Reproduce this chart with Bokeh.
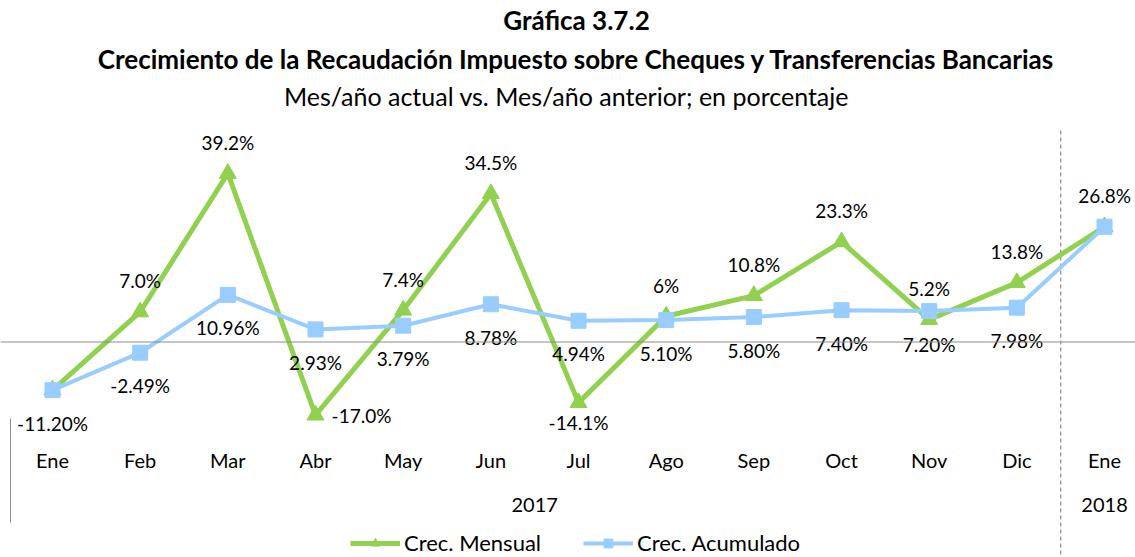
from bokeh.plotting import figure
from bokeh.models import Span, Legend, LegendItem, ColumnDataSource, Range1d
from bokeh.core.properties import value
from bokeh.embed import file_html
from bokeh.resources import INLINE

# ---------------- data ----------------
months = ["Ene", "Feb", "Mar", "Abr", "May", "Jun", "Jul", "Ago", "Sep", "Oct", "Nov", "Dic", "Ene"]
years = ["2017", "2018"]
mensual = [-11.2, 7.0, 39.2, -17.0, 7.4, 34.5, -14.1, 6.0, 10.8, 23.3, 5.2, 13.8, 26.8]
acumulado = [-11.20, -2.49, 10.96, 2.93, 3.79, 8.78, 4.94, 5.10, 5.80, 7.40, 7.20, 7.98, 26.8]
mensual_labels = ["", "7.0%", "39.2%", "-17.0%", "7.4%", "34.5%", "-14.1%", "6%",
                  "10.8%", "23.3%", "5.2%", "13.8%", "26.8%"]
acumulado_labels = ["-11.20%", "-2.49%", "10.96%", "2.93%", "3.79%", "8.78%", "4.94%",
                    "5.10%", "5.80%", "7.40%", "7.20%", "7.98%", ""]

# label placement for the monthly series (style, not data)
mensual_pos = ["above", "above", "above", "right", "above", "above", "below",
               "above", "above", "above", "above", "above", "above"]

# ---------------- layout helpers ----------------
W, H = 1135, 557
X0, DX = 52.0, 87.67     # page px of first category, px per category
Y0, DY = 341.5, 4.3      # page px of zero, px per percentage point
LEFT, TOP = 0, 0

def px_x(px):
    return (px - X0) / DX

def px_y(py):
    return (Y0 - py) / DY

FONT = "Lato"
GREEN = "#92D050"
BLUE = "#99CCFF"

p = figure(width=W, height=H, output_backend="svg", toolbar_location=None,
           x_range=Range1d(px_x(LEFT), px_x(LEFT + W)),
           y_range=Range1d(px_y(TOP + H), px_y(TOP)),
           min_border=0, min_border_left=0, min_border_right=0,
           min_border_top=0, min_border_bottom=0)
p.axis.visible = False
p.grid.visible = False
p.outline_line_color = None
p.background_fill_color = "white"
p.border_fill_color = "white"

xs = list(range(len(months)))

# zero line
p.add_layout(Span(location=0, dimension="width", line_color="#8C8C8C", line_width=1))

# separators
p.segment(x0=[px_x(10)], y0=[px_y(418)], x1=[px_x(10)], y1=[px_y(522)],
          line_color="#8C8C8C", line_width=1)
p.segment(x0=[11.5], y0=[px_y(130)], x1=[11.5], y1=[px_y(TOP + H)],
          line_color="#8C8C8C", line_width=1.2, line_dash="4 3")

# series
g_line = p.line(xs, mensual, line_color=GREEN, line_width=5)
g_pts = p.scatter(xs, mensual, marker="triangle", size=17, fill_color=GREEN,
                  line_color=GREEN)
b_line = p.line(xs, acumulado, line_color=BLUE, line_width=4)
b_pts = p.scatter(xs, acumulado, marker="square", size=15, fill_color=BLUE,
                  line_color=BLUE)

# data labels - monthly
off = {"above": (0, -31), "below": (0, 20), "right": (46, 0)}
src_m = ColumnDataSource(dict(
    x=xs, y=mensual, t=mensual_labels,
    xo=[off[k][0] for k in mensual_pos], yo=[off[k][1] for k in mensual_pos]))
p.text(x="x", y="y", text="t", x_offset="xo", y_offset="yo", source=src_m,
       text_align="center", text_baseline="middle", text_color="black",
       text_font=value(FONT), text_font_size="19px")

# data labels - cumulative (below points)
p.text(x=xs, y=acumulado, text=acumulado_labels, y_offset=33,
       text_align="center", text_baseline="middle", text_color="black",
       text_font=value(FONT), text_font_size="19px")

# category labels
p.text(x=xs, y=[px_y(459)] * len(xs), text=months, text_align="center",
       text_baseline="middle", text_color="black", text_font=value(FONT),
       text_font_size="20px")
p.text(x=[5.5, 12], y=[px_y(504)] * 2, text=years, text_align="center",
       text_baseline="middle", text_color="black", text_font=value(FONT),
       text_font_size="20px")

# titles
cx = px_x(576)
p.text(x=[cx], y=[px_y(19)], text=["Gráfica 3.7.2"], text_align="center",
       text_baseline="middle", text_color="black", text_font=value(FONT),
       text_font_size="26px", text_font_style="bold")
p.text(x=[cx], y=[px_y(58)], text=["Crecimiento de la Recaudación Impuesto sobre Cheques y Transferencias Bancarias"],
       text_align="center", text_baseline="middle", text_color="black",
       text_font=value(FONT), text_font_size="26px", text_font_style="bold")
p.text(x=[px_x(566)], y=[px_y(95)], text=["Mes/año actual vs. Mes/año anterior; en porcentaje"],
       text_align="center", text_baseline="middle", text_color="black",
       text_font=value(FONT), text_font_size="25px")

legend = Legend(items=[LegendItem(label="Crec. Mensual", renderers=[g_line, g_pts]),
                       LegendItem(label="Crec. Acumulado", renderers=[b_line, b_pts])],
                orientation="horizontal", location=(350, 1), padding=0, margin=0,
                spacing=42, glyph_width=50, glyph_height=22, label_standoff=4,
                border_line_color=None, background_fill_alpha=0,
                label_text_font=FONT, label_text_font_size="22px",
                label_text_color="black")
p.add_layout(legend)

open("out.html", "w").write(file_html(p, INLINE))
